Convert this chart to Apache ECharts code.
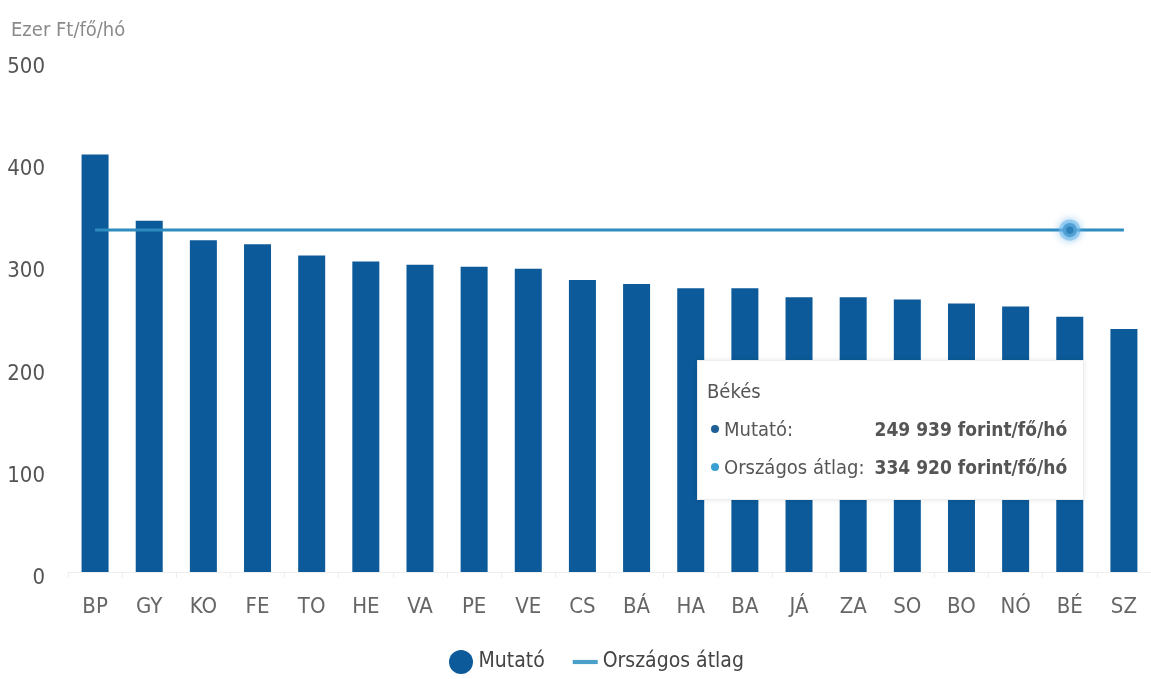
<!DOCTYPE html>
<html>
<head>
<meta charset="utf-8">
<script src="https://cdn.jsdelivr.net/npm/echarts@6/dist/echarts.min.js"></script>
<style>
html,body{margin:0;padding:0;background:#fff;}
#chart{width:1151px;height:679px;}
</style>
</head>
<body>
<div id="chart"></div>
<script>
const categories = ['BP','GY','KO','FE','TO','HE','VA','PE','VE','CS','BÁ','HA','BA','JÁ','ZA','SO','BO','NÓ','BÉ','SZ'];
const mutato = [409, 344, 325, 321, 310, 304, 301, 299, 297, 286, 282, 278, 278, 269, 269, 267, 263, 260, 249.939, 238];
const orszagosAtlag = [334.92, 334.92, 334.92, 334.92, 334.92, 334.92, 334.92, 334.92, 334.92, 334.92, 334.92, 334.92, 334.92, 334.92, 334.92, 334.92, 334.92, 334.92, 334.92, 334.92];
const yTicks = [0, 100, 200, 300, 400, 500];
const unitLabel = 'Ezer Ft/fő/hó';
const seriesNames = ['Mutató', 'Országos átlag'];
const tooltipTitle = 'Békés';
const highlightIndex = 18;

const FONT = "'Liberation Sans Narrow', 'Arial Narrow', 'DejaVu Sans Condensed', sans-serif";
const BAR_COLOR = '#0c5a99';
const LINE_COLOR = '#2f8cbe';

function fmt(v) {
  return Math.round(v * 1000).toString().replace(/\B(?=(\d{3})+(?!\d))/g, ' ') + ' forint/fő/hó';
}

const chart = echarts.init(document.getElementById('chart'), null, {renderer: 'canvas'});

const lineData = orszagosAtlag.map((v, i) => i === highlightIndex ? {
  value: v,
  symbol: 'circle',
  symbolSize: 13,
  itemStyle: {
    color: '#1a6fa6',
    borderColor: 'rgba(110,185,235,0.55)',
    borderWidth: 7,
    shadowBlur: 8,
    shadowColor: 'rgba(90,170,230,0.8)'
  }
} : v);

const option = {
  animation: false,
  title: {
    text: unitLabel,
    left: 6,
    top: 16,
    textStyle: {fontFamily: FONT, fontSize: 20, fontWeight: 'normal', color: '#8a8a8a'}
  },
  grid: {left: 68, right: -9, top: 61.5, bottom: 107, containLabel: false},
  tooltip: {
    trigger: 'axis',
    alwaysShowContent: true,
    showContent: true,
    transitionDuration: 0,
    axisPointer: {type: 'none'},
    position: [697, 360],
    backgroundColor: '#ffffff',
    borderColor: '#ededed',
    borderWidth: 1,
    padding: [17, 10, 10, 9],
    extraCssText: 'box-shadow:0 0 5px rgba(0,0,0,0.10);border-radius:0;width:366px;height:111px;',
    formatter: function () {
      const i = highlightIndex;
      const dot = c => '<span style="display:inline-block;width:8px;height:8px;border-radius:50%;background:' + c + ';margin:0 5px 0 4px;vertical-align:middle;position:relative;top:-2px"></span>';
      return '<div style="font-family:' + FONT.replace(/"/g, '') + ';color:#555;">' +
        '<div style="font-size:20px;line-height:26px;margin-bottom:6px;">' + tooltipTitle + '</div>' +
        '<table style="border-collapse:collapse;font-size:20px;line-height:38px;color:#555;">' +
        '<tr><td style="padding:0 10px 0 0">' + dot('#1d5f96') + seriesNames[0] + ':</td><td style="font-weight:bold;font-size:19px;color:#555;padding:0">' + fmt(mutato[i]) + '</td></tr>' +
        '<tr><td style="padding:0 10px 0 0">' + dot('#3aa0d4') + seriesNames[1] + ':</td><td style="font-weight:bold;font-size:19px;color:#555;padding:0">' + fmt(orszagosAtlag[i]) + '</td></tr>' +
        '</table></div>';
    }
  },
  legend: {
    bottom: 0,
    left: 444,
    itemGap: 28,
    itemWidth: 25,
    itemHeight: 24,
    symbolKeepAspect: true,
    textStyle: {fontFamily: FONT, fontSize: 21, color: '#444'},
    data: [
      {name: seriesNames[0], icon: 'circle', itemStyle: {color: BAR_COLOR}},
      {name: seriesNames[1], icon: 'path://M0,0H24V4H0Z', itemStyle: {color: '#4aa0c8'}}
    ]
  },
  xAxis: {
    type: 'category',
    data: categories,
    axisLine: {show: true, lineStyle: {color: '#eeeeee', width: 1}},
    axisTick: {show: true, lineStyle: {color: '#eeeeee'}, length: 6},
    axisLabel: {fontFamily: FONT, fontSize: 22, color: '#666', margin: 24}
  },
  yAxis: {
    type: 'value',
    min: yTicks[0],
    max: yTicks[yTicks.length - 1],
    interval: 100,
    axisLine: {show: false},
    axisTick: {show: false},
    splitLine: {show: false},
    axisLabel: {fontFamily: FONT, fontSize: 22, color: '#555', margin: 23, verticalAlign: 'top', lineHeight: 12}
  },
  series: [
    {
      name: seriesNames[0],
      type: 'bar',
      data: mutato,
      barWidth: 27,
      itemStyle: {color: BAR_COLOR},
      emphasis: {disabled: true}
    },
    {
      name: seriesNames[1],
      type: 'line',
      data: lineData,
      symbol: 'none',
      lineStyle: {color: LINE_COLOR, width: 3},
      itemStyle: {color: LINE_COLOR},
      emphasis: {disabled: true},
      z: 3
    }
  ]
};

chart.setOption(option);
chart.dispatchAction({type: 'showTip', seriesIndex: 1, dataIndex: highlightIndex});
</script>
</body>
</html>
